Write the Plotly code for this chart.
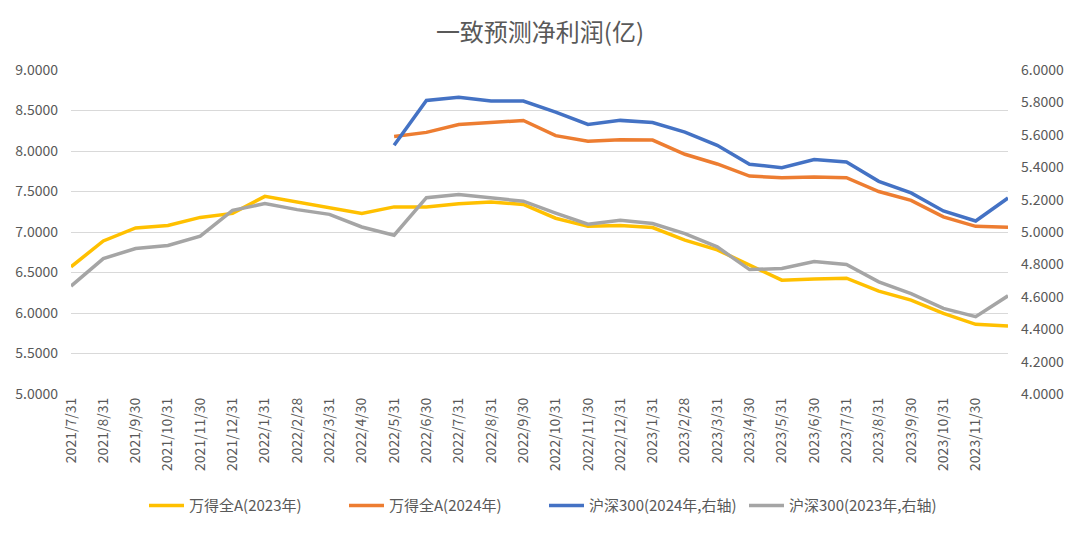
import plotly.graph_objects as go

tick_labels = [
    "2021/7/31", "2021/8/31", "2021/9/30", "2021/10/31", "2021/11/30", "2021/12/31",
    "2022/1/31", "2022/2/28", "2022/3/31", "2022/4/30", "2022/5/31", "2022/6/30",
    "2022/7/31", "2022/8/31", "2022/9/30", "2022/10/31", "2022/11/30", "2022/12/31",
    "2023/1/31", "2023/2/28", "2023/3/31", "2023/4/30", "2023/5/31", "2023/6/30",
    "2023/7/31", "2023/8/31", "2023/9/30", "2023/10/31", "2023/11/30",
]
# 30 points; last point has no visible category label
x_idx = list(range(30))

wind_a_2023 = [6.57, 6.89, 7.05, 7.08, 7.18, 7.23, 7.44, 7.37, 7.31, 7.23,
               7.31, 7.31, 7.35, 7.37, 7.34, 7.17, 7.07, 7.08, 7.055, 6.90,
               6.78, 6.59, 6.405, 6.42, 6.43, 6.27, 6.16, 5.995, 5.86, 5.84]
wind_a_2024 = [None] * 10 + [8.18, 8.23, 8.328, 8.357, 8.377, 8.19, 8.12, 8.14, 8.135, 7.96,
                             7.84, 7.69, 7.67, 7.68, 7.67, 7.50, 7.39, 7.186, 7.07, 7.06]
hs300_2024 = [None] * 10 + [5.535, 5.812, 5.832, 5.808, 5.808, 5.74, 5.664, 5.689, 5.676, 5.617,
                            5.535, 5.418, 5.397, 5.447, 5.432, 5.313, 5.241, 5.13, 5.068, 5.21]
hs300_2023 = [4.666, 4.836, 4.898, 4.917, 4.974, 5.134, 5.175, 5.138, 5.109, 5.031,
              4.98, 5.212, 5.231, 5.212, 5.19, 5.117, 5.048, 5.072, 5.052, 4.99,
              4.908, 4.768, 4.775, 4.818, 4.80, 4.692, 4.62, 4.528, 4.477, 4.606]

names = ["万得全A(2023年)", "万得全A(2024年)", "沪深300(2024年,右轴)", "沪深300(2023年,右轴)"]
colors = ["#FFC000", "#ED7D31", "#4472C4", "#A5A5A5"]

FONT = "Noto Sans CJK SC, Liberation Sans, sans-serif"
TXT = "#595959"

# page has an 8px body margin; figure sized to fit the 1080x534 window
OFF = 8
W, H = 1080 - OFF, 534 - OFF
ML, MR, MT, MB = 71 - OFF, 72, 69.5 - OFF, 140
PW, PH = W - ML - MR, H - MT - MB

fig = go.Figure()
series = [(wind_a_2023, "y"), (wind_a_2024, "y"), (hs300_2024, "y2"), (hs300_2023, "y2")]
for (vals, ax), name, col in zip(series, names, colors):
    fig.add_trace(go.Scatter(
        x=x_idx, y=vals, name=name, mode="lines", yaxis=ax,
        line=dict(color=col, width=3.5), connectgaps=False,
    ))

fig.update_layout(
    width=W, height=H,
    margin=dict(l=ML, r=MR, t=MT, b=MB, autoexpand=False),
    paper_bgcolor="white", plot_bgcolor="white",
    font=dict(family=FONT, color=TXT, size=14),
    title=dict(text="一致预测净利润(亿)", x=(540 - OFF) / W, xanchor="center", y=1 - (33 - OFF) / H,
               yanchor="middle", font=dict(size=24, color=TXT, family=FONT)),
    xaxis=dict(
        range=[0, 29], tickmode="array", tickvals=list(range(len(tick_labels))),
        ticktext=tick_labels, tickangle=-90, showgrid=False, zeroline=False,
        showline=False, ticks="", tickfont=dict(size=14, color=TXT),
    ),
    yaxis=dict(
        range=[5, 9], dtick=0.5, tickformat=".4f", showgrid=True, gridcolor="#D9D9D9",
        gridwidth=1, zeroline=False, showline=False, ticks="", ticklabelstandoff=12,
        tickfont=dict(size=14, color=TXT),
    ),
    yaxis2=dict(
        range=[4, 6], dtick=0.2, tickformat=".4f", overlaying="y", side="right",
        showgrid=False, zeroline=False, showline=False, ticks="", ticklabelstandoff=12,
        tickfont=dict(size=14, color=TXT),
    ),
    legend=dict(
        orientation="h", x=(544 - OFF - ML) / PW, xanchor="center",
        y=-((506 - OFF) - MT - PH) / PH, yanchor="middle",
        font=dict(size=15, color=TXT), itemwidth=35, entrywidth=150, entrywidthmode="pixels",
        traceorder="normal", bgcolor="rgba(0,0,0,0)",
    ),
    showlegend=True,
)

fig.write_html("out.html")
